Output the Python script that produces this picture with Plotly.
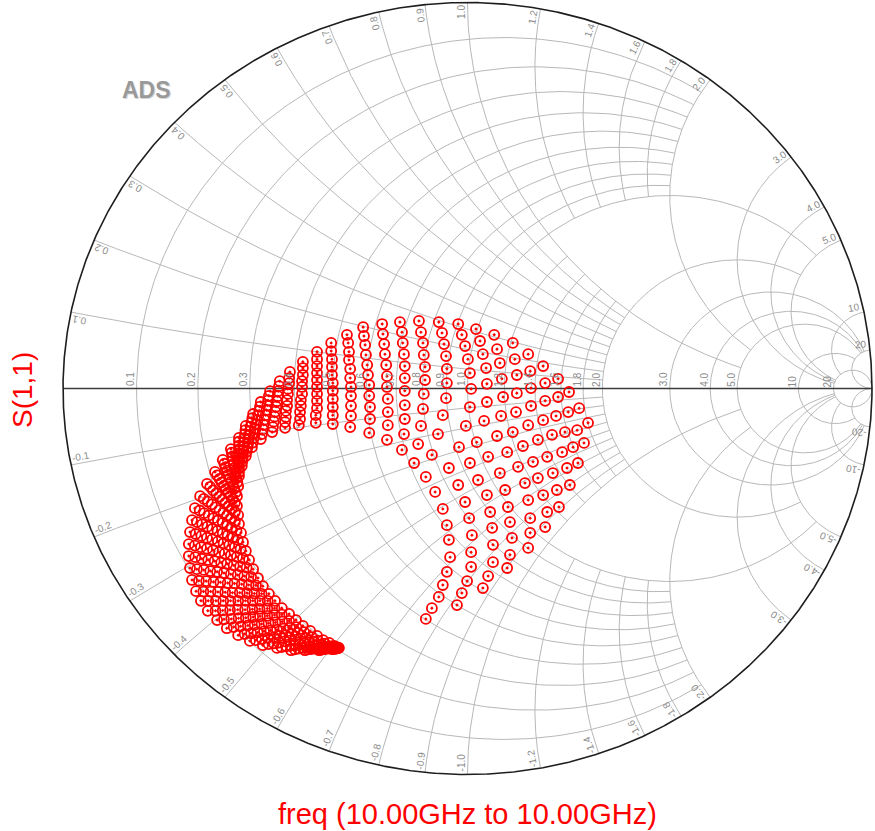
import math
import numpy as np
import plotly.graph_objects as go

# ---------------- data: S(1,1) of the 2-D sweep (real / imaginary parts) -------------
# one row per sweep step, 11 values per row (inner parameter)
s11_re_main = [
    [-0.103, -0.026, 0.038, 0.098, 0.150, 0.192, 0.226, 0.253, 0.273, 0.288, 0.298],
    [-0.088, -0.014, 0.051, 0.105, 0.155, 0.197, 0.221, 0.246, 0.261, 0.271, 0.276],
    [-0.071, -0.001, 0.063, 0.110, 0.155, 0.187, 0.211, 0.234, 0.241, 0.249, 0.251],
    [-0.061, 0.009, 0.063, 0.105, 0.150, 0.174, 0.197, 0.209, 0.219, 0.224, 0.224],
    [-0.051, 0.009, 0.061, 0.100, 0.142, 0.162, 0.174, 0.187, 0.192, 0.192, 0.187],
    [-0.043, 0.011, 0.056, 0.093, 0.125, 0.137, 0.150, 0.157, 0.157, 0.155, 0.150],
    [-0.046, 0.004, 0.048, 0.080, 0.098, 0.112, 0.120, 0.122, 0.122, 0.117, 0.112],
    [-0.051, -0.006, 0.026, 0.051, 0.073, 0.083, 0.088, 0.085, 0.080, 0.073, 0.066],
    [-0.061, -0.023, 0.006, 0.023, 0.041, 0.048, 0.048, 0.046, 0.038, 0.031, 0.021],
    [-0.080, -0.046, -0.021, -0.004, 0.006, 0.009, 0.006, 0.001, -0.006, -0.014, -0.023],
    [-0.103, -0.088, -0.073, -0.061, -0.053, -0.051, -0.051, -0.053, -0.058, -0.063, -0.071],
    [-0.132, -0.122, -0.115, -0.110, -0.108, -0.105, -0.105, -0.108, -0.110, -0.115, -0.120],
    [-0.162, -0.157, -0.155, -0.155, -0.155, -0.155, -0.155, -0.157, -0.160, -0.162, -0.167],
    [-0.199, -0.197, -0.197, -0.197, -0.199, -0.199, -0.201, -0.204, -0.206, -0.209, -0.211],
    [-0.243, -0.241, -0.241, -0.243, -0.243, -0.246, -0.248, -0.251, -0.253, -0.256, -0.258],
    [-0.290, -0.288, -0.288, -0.288, -0.288, -0.290, -0.290, -0.293, -0.293, -0.295, -0.298],
    [-0.333, -0.333, -0.333, -0.333, -0.333, -0.333, -0.335, -0.335, -0.335, -0.337, -0.337],
    [-0.375, -0.375, -0.372, -0.372, -0.372, -0.372, -0.372, -0.372, -0.372, -0.372, -0.372],
    [-0.417, -0.414, -0.414, -0.412, -0.412, -0.409, -0.409, -0.409, -0.407, -0.407, -0.407],
    [-0.451, -0.451, -0.449, -0.449, -0.446, -0.446, -0.444, -0.444, -0.441, -0.441, -0.439],
]
s11_im_main = [
    [-0.597, -0.561, -0.517, -0.465, -0.413, -0.359, -0.307, -0.250, -0.193, -0.141, -0.089],
    [-0.569, -0.530, -0.486, -0.431, -0.374, -0.320, -0.263, -0.206, -0.152, -0.108, -0.051],
    [-0.540, -0.499, -0.450, -0.387, -0.336, -0.276, -0.219, -0.165, -0.113, -0.061, -0.009],
    [-0.509, -0.462, -0.405, -0.346, -0.289, -0.232, -0.177, -0.120, -0.071, -0.022, 0.025],
    [-0.475, -0.424, -0.361, -0.307, -0.245, -0.190, -0.133, -0.082, -0.032, 0.014, 0.058],
    [-0.437, -0.380, -0.320, -0.263, -0.203, -0.149, -0.095, -0.045, 0.001, 0.045, 0.089],
    [-0.392, -0.336, -0.276, -0.219, -0.165, -0.113, -0.061, -0.012, 0.035, 0.076, 0.118],
    [-0.354, -0.294, -0.237, -0.177, -0.123, -0.071, -0.022, 0.025, 0.066, 0.102, 0.139],
    [-0.312, -0.250, -0.193, -0.139, -0.084, -0.035, 0.012, 0.053, 0.089, 0.123, 0.154],
    [-0.268, -0.206, -0.152, -0.097, -0.048, -0.001, 0.040, 0.076, 0.110, 0.139, 0.167],
    [-0.229, -0.172, -0.118, -0.069, -0.025, 0.014, 0.051, 0.084, 0.115, 0.144, 0.172],
    [-0.193, -0.144, -0.097, -0.053, -0.014, 0.022, 0.056, 0.087, 0.118, 0.146, 0.175],
    [-0.159, -0.118, -0.079, -0.043, -0.006, 0.027, 0.058, 0.089, 0.118, 0.146, 0.172],
    [-0.133, -0.095, -0.061, -0.027, 0.004, 0.032, 0.061, 0.089, 0.115, 0.141, 0.167],
    [-0.115, -0.079, -0.048, -0.019, 0.009, 0.035, 0.061, 0.087, 0.113, 0.136, 0.159],
    [-0.100, -0.071, -0.045, -0.019, 0.004, 0.027, 0.051, 0.074, 0.095, 0.118, 0.139],
    [-0.092, -0.069, -0.048, -0.027, -0.006, 0.014, 0.035, 0.056, 0.076, 0.097, 0.118],
    [-0.089, -0.069, -0.051, -0.032, -0.014, 0.004, 0.022, 0.040, 0.058, 0.076, 0.095],
    [-0.095, -0.079, -0.061, -0.045, -0.030, -0.014, 0.004, 0.019, 0.035, 0.053, 0.069],
    [-0.102, -0.087, -0.074, -0.058, -0.045, -0.030, -0.014, -0.001, 0.014, 0.027, 0.043],
]
s11_re_tail = [
    [-0.483, -0.481, -0.479, -0.477, -0.475, -0.473, -0.471, -0.469, -0.468, -0.466, -0.464],
    [-0.511, -0.508, -0.506, -0.504, -0.502, -0.499, -0.497, -0.495, -0.493, -0.491, -0.488],
    [-0.533, -0.531, -0.528, -0.526, -0.524, -0.522, -0.519, -0.517, -0.515, -0.513, -0.511],
    [-0.548, -0.546, -0.544, -0.542, -0.541, -0.539, -0.537, -0.536, -0.534, -0.532, -0.530],
    [-0.558, -0.557, -0.556, -0.555, -0.554, -0.553, -0.552, -0.551, -0.550, -0.549, -0.548],
    [-0.565, -0.565, -0.565, -0.565, -0.565, -0.565, -0.565, -0.565, -0.565, -0.565, -0.565],
    [-0.567, -0.569, -0.571, -0.573, -0.574, -0.576, -0.578, -0.580, -0.581, -0.583, -0.585],
    [-0.570, -0.573, -0.577, -0.580, -0.584, -0.587, -0.591, -0.594, -0.598, -0.601, -0.605],
    [-0.570, -0.575, -0.581, -0.586, -0.592, -0.597, -0.602, -0.608, -0.613, -0.619, -0.624],
    [-0.567, -0.575, -0.583, -0.590, -0.598, -0.606, -0.613, -0.621, -0.629, -0.636, -0.644],
    [-0.565, -0.575, -0.584, -0.594, -0.603, -0.613, -0.623, -0.632, -0.642, -0.652, -0.661],
    [-0.560, -0.571, -0.583, -0.594, -0.605, -0.617, -0.628, -0.640, -0.651, -0.662, -0.674],
    [-0.555, -0.568, -0.580, -0.593, -0.605, -0.618, -0.631, -0.643, -0.656, -0.669, -0.681],
    [-0.548, -0.561, -0.575, -0.589, -0.603, -0.617, -0.631, -0.644, -0.658, -0.672, -0.686],
    [-0.540, -0.555, -0.570, -0.585, -0.600, -0.614, -0.629, -0.644, -0.659, -0.674, -0.689],
    [-0.530, -0.546, -0.562, -0.578, -0.594, -0.609, -0.625, -0.641, -0.657, -0.673, -0.689],
    [-0.518, -0.535, -0.552, -0.568, -0.585, -0.602, -0.619, -0.636, -0.652, -0.669, -0.686],
    [-0.506, -0.523, -0.541, -0.558, -0.576, -0.593, -0.611, -0.628, -0.646, -0.664, -0.681],
    [-0.491, -0.509, -0.527, -0.545, -0.563, -0.581, -0.599, -0.617, -0.635, -0.653, -0.671],
    [-0.476, -0.494, -0.513, -0.531, -0.549, -0.567, -0.586, -0.604, -0.622, -0.641, -0.659],
    [-0.459, -0.477, -0.495, -0.514, -0.532, -0.550, -0.568, -0.587, -0.605, -0.623, -0.642],
    [-0.441, -0.459, -0.477, -0.495, -0.513, -0.530, -0.548, -0.566, -0.584, -0.602, -0.619],
    [-0.424, -0.441, -0.458, -0.475, -0.492, -0.509, -0.526, -0.543, -0.561, -0.578, -0.595],
    [-0.407, -0.423, -0.439, -0.455, -0.471, -0.487, -0.503, -0.519, -0.535, -0.551, -0.567],
    [-0.389, -0.404, -0.419, -0.434, -0.449, -0.464, -0.478, -0.493, -0.508, -0.523, -0.538],
    [-0.372, -0.385, -0.399, -0.412, -0.426, -0.439, -0.452, -0.466, -0.479, -0.492, -0.506],
    [-0.357, -0.369, -0.380, -0.391, -0.403, -0.414, -0.426, -0.437, -0.448, -0.460, -0.471],
    [-0.342, -0.352, -0.361, -0.371, -0.380, -0.389, -0.399, -0.408, -0.418, -0.427, -0.436],
    [-0.330, -0.337, -0.344, -0.352, -0.359, -0.366, -0.373, -0.380, -0.387, -0.395, -0.402],
    [-0.323, -0.327, -0.332, -0.336, -0.340, -0.345, -0.349, -0.354, -0.358, -0.363, -0.367],
    [-0.318, -0.319, -0.321, -0.323, -0.325, -0.326, -0.328, -0.330, -0.332, -0.333, -0.335],
]
s11_im_tail = [
    [-0.113, -0.100, -0.086, -0.073, -0.060, -0.047, -0.033, -0.020, -0.007, 0.006, 0.019],
    [-0.131, -0.118, -0.106, -0.094, -0.081, -0.069, -0.056, -0.044, -0.031, -0.019, -0.007],
    [-0.152, -0.140, -0.128, -0.117, -0.105, -0.093, -0.082, -0.070, -0.058, -0.047, -0.035],
    [-0.175, -0.164, -0.153, -0.142, -0.131, -0.121, -0.110, -0.099, -0.088, -0.077, -0.066],
    [-0.201, -0.190, -0.180, -0.170, -0.159, -0.149, -0.139, -0.128, -0.118, -0.108, -0.097],
    [-0.227, -0.217, -0.207, -0.197, -0.187, -0.177, -0.168, -0.158, -0.148, -0.138, -0.128],
    [-0.253, -0.243, -0.233, -0.224, -0.214, -0.205, -0.195, -0.186, -0.176, -0.166, -0.157],
    [-0.279, -0.269, -0.260, -0.251, -0.241, -0.232, -0.223, -0.213, -0.204, -0.195, -0.185],
    [-0.304, -0.296, -0.287, -0.278, -0.269, -0.260, -0.252, -0.243, -0.234, -0.225, -0.216],
    [-0.328, -0.320, -0.312, -0.304, -0.296, -0.288, -0.280, -0.272, -0.264, -0.255, -0.247],
    [-0.351, -0.344, -0.337, -0.329, -0.322, -0.315, -0.308, -0.300, -0.293, -0.286, -0.279],
    [-0.374, -0.368, -0.361, -0.355, -0.348, -0.342, -0.336, -0.329, -0.323, -0.316, -0.310],
    [-0.398, -0.392, -0.386, -0.381, -0.375, -0.369, -0.364, -0.358, -0.352, -0.346, -0.341],
    [-0.421, -0.416, -0.411, -0.406, -0.401, -0.396, -0.391, -0.387, -0.382, -0.377, -0.372],
    [-0.444, -0.440, -0.436, -0.432, -0.428, -0.424, -0.419, -0.415, -0.411, -0.407, -0.403],
    [-0.468, -0.464, -0.461, -0.458, -0.454, -0.451, -0.447, -0.444, -0.441, -0.437, -0.434],
    [-0.491, -0.488, -0.486, -0.483, -0.481, -0.478, -0.475, -0.473, -0.470, -0.468, -0.465],
    [-0.512, -0.510, -0.509, -0.507, -0.505, -0.504, -0.502, -0.501, -0.499, -0.498, -0.496],
    [-0.532, -0.532, -0.531, -0.530, -0.529, -0.529, -0.528, -0.527, -0.526, -0.526, -0.525],
    [-0.550, -0.550, -0.550, -0.550, -0.550, -0.550, -0.550, -0.550, -0.550, -0.550, -0.550],
    [-0.569, -0.569, -0.570, -0.571, -0.572, -0.573, -0.573, -0.574, -0.575, -0.576, -0.576],
    [-0.584, -0.586, -0.587, -0.589, -0.590, -0.592, -0.594, -0.595, -0.597, -0.598, -0.600],
    [-0.600, -0.602, -0.604, -0.606, -0.608, -0.610, -0.612, -0.614, -0.616, -0.618, -0.621],
    [-0.615, -0.618, -0.620, -0.622, -0.625, -0.627, -0.629, -0.632, -0.634, -0.636, -0.639],
    [-0.628, -0.631, -0.633, -0.636, -0.639, -0.641, -0.644, -0.646, -0.649, -0.652, -0.654],
    [-0.641, -0.644, -0.646, -0.648, -0.651, -0.653, -0.655, -0.658, -0.660, -0.662, -0.665],
    [-0.652, -0.654, -0.656, -0.658, -0.660, -0.662, -0.664, -0.666, -0.668, -0.670, -0.672],
    [-0.659, -0.661, -0.663, -0.665, -0.667, -0.668, -0.670, -0.672, -0.674, -0.676, -0.678],
    [-0.667, -0.668, -0.669, -0.670, -0.671, -0.672, -0.673, -0.674, -0.675, -0.676, -0.678],
    [-0.670, -0.671, -0.671, -0.672, -0.673, -0.674, -0.674, -0.675, -0.676, -0.677, -0.678],
    [-0.672, -0.672, -0.673, -0.673, -0.673, -0.674, -0.674, -0.674, -0.674, -0.675, -0.675],
]

# ---------------- Smith grid definition (normalized r and x values) ----------------
grid_values = [0.1, 0.2, 0.3, 0.4, 0.5, 0.6, 0.7, 0.8, 0.9, 1.0,
               1.2, 1.4, 1.6, 1.8, 2.0, 3.0, 4.0, 5.0, 10.0, 20.0]
grid_limits = [2.0, 2.0, 2.0, 2.0, 2.0, 2.0, 2.0, 2.0, 2.0, 5.0,
               1.0, 1.0, 1.0, 1.0, 5.0, 20.0, 20.0, 20.0, 20.0, None]
grid_labels = ["0.1", "0.2", "0.3", "0.4", "0.5", "0.6", "0.7", "0.8", "0.9", "1.0",
               "1.2", "1.4", "1.6", "1.8", "2.0", "3.0", "4.0", "5.0", "10", "20"]

x_title = "freq (10.00GHz to 10.00GHz)"
y_title = "S(1,1)"
watermark = "ADS"

# ---------------- page / frame ----------------
W, H = 875, 831
X_RANGE = [-1.15575, 1.00742]
Y_RANGE = [-1.14637, 1.00648]
SX = W / (X_RANGE[1] - X_RANGE[0])
SY = H / (Y_RANGE[1] - Y_RANGE[0])

GRID_COLOR = "#b8b8b8"
TEXT_GRAY = "#8a8a8a"
FONT = "Liberation Sans, Arial, sans-serif"


def refl(z):
    return (z - 1) / (z + 1)


gx, gy = [], []
for v, lim in zip(grid_values, grid_limits):
    top = 1e5 if lim is None else lim
    t = np.geomspace(1e-4, top, 500)
    react = np.concatenate([-t[::-1], [0.0], t])
    g = refl(v + 1j * react)
    gx += g.real.tolist() + [None]
    gy += g.imag.tolist() + [None]
    res = np.concatenate([[0.0], t])
    for s in (1, -1):
        g = refl(res + 1j * s * v)
        gx += g.real.tolist() + [None]
        gy += g.imag.tolist() + [None]

th = np.linspace(0, 2 * np.pi, 1441)

fig = go.Figure()
fig.add_trace(go.Scatter(x=gx, y=gy, mode="lines", line=dict(color=GRID_COLOR, width=1),
                         hoverinfo="skip"))
fig.add_trace(go.Scatter(x=[-1, 1], y=[0, 0], mode="lines",
                         line=dict(color="#3c3c3c", width=1.5), hoverinfo="skip"))
fig.add_trace(go.Scatter(x=np.cos(th), y=np.sin(th), mode="lines",
                         line=dict(color="#1e1e1e", width=1.6), hoverinfo="skip"))

re_all = [v for row in s11_re_main + s11_re_tail for v in row]
im_all = [v for row in s11_im_main + s11_im_tail for v in row]
fig.add_trace(go.Scatter(
    x=re_all, y=im_all, mode="markers",
    marker=dict(symbol="circle-open-dot", size=10, color="#ff0000",
                line=dict(color="#ff0000", width=1.8)),
    hoverinfo="skip"))

CHAR_W = {"-": 3.33, ".": 2.78}


def text_len(s, size=10):
    return sum(CHAR_W.get(c, 5.56) for c in s) * size / 10.0


ann = []
# labels along the real axis
for v, lab in zip(grid_values, grid_labels):
    L = text_len(lab)
    ann.append(dict(x=(v - 1) / (v + 1), y=0, xref="x", yref="y", text=lab,
                    showarrow=False, textangle=-90, xshift=-6, yshift=L / 2 + 2,
                    xanchor="center", yanchor="middle",
                    font=dict(family=FONT, size=10, color=TEXT_GRAY)))

# labels around the boundary (reactance values)
for v, lab in zip(grid_values, grid_labels):
    for s in (1, -1):
        p = refl(1j * s * v)
        ux, uy = p.real * SX, p.imag * SY
        n = math.hypot(ux, uy)
        ux, uy = ux / n, uy / n
        dx, dy = (ux, uy) if uy >= 0 else (-ux, -uy)
        ang = -math.degrees(math.atan2(dy, dx))
        txt = lab if s > 0 else "-" + lab
        L = text_len(txt)
        nx, ny = -dy, dx
        offx = -ux * (L / 2 + 3) + nx * 6
        offy = -uy * (L / 2 + 3) + ny * 6
        ann.append(dict(x=p.real, y=p.imag, xref="x", yref="y", text=txt,
                        showarrow=False, textangle=ang, xshift=offx, yshift=offy,
                        xanchor="center", yanchor="middle",
                        font=dict(family=FONT, size=10, color=TEXT_GRAY)))

ann.append(dict(x=468 / W, y=1 - 814 / H, xref="paper", yref="paper", text=x_title,
                showarrow=False, xanchor="center", yanchor="middle",
                font=dict(family=FONT, size=29, color="#ff0000")))
ann.append(dict(x=22 / W, y=1 - 390 / H, xref="paper", yref="paper", text=y_title,
                showarrow=False, textangle=-90, xanchor="center", yanchor="middle",
                font=dict(family=FONT, size=28, color="#ff0000")))
ann.append(dict(x=147 / W, y=1 - 91 / H, xref="paper", yref="paper",
                text="<b>" + watermark + "</b>", showarrow=False,
                xanchor="center", yanchor="middle",
                font=dict(family=FONT, size=23, color="#d6d6d6")))
ann.append(dict(x=146 / W, y=1 - 90 / H, xref="paper", yref="paper",
                text="<b>" + watermark + "</b>", showarrow=False,
                xanchor="center", yanchor="middle",
                font=dict(family=FONT, size=23, color="#999999")))

fig.update_layout(
    width=W, height=H,
    margin=dict(l=0, r=0, t=0, b=0),
    paper_bgcolor="white", plot_bgcolor="white",
    showlegend=False,
    xaxis=dict(range=X_RANGE, visible=False, fixedrange=True),
    yaxis=dict(range=Y_RANGE, visible=False, fixedrange=True),
    annotations=ann,
)

fig.write_html("out.html", config={"displayModeBar": False},
               post_script="document.body.style.margin='0';document.body.style.overflow='hidden';")
